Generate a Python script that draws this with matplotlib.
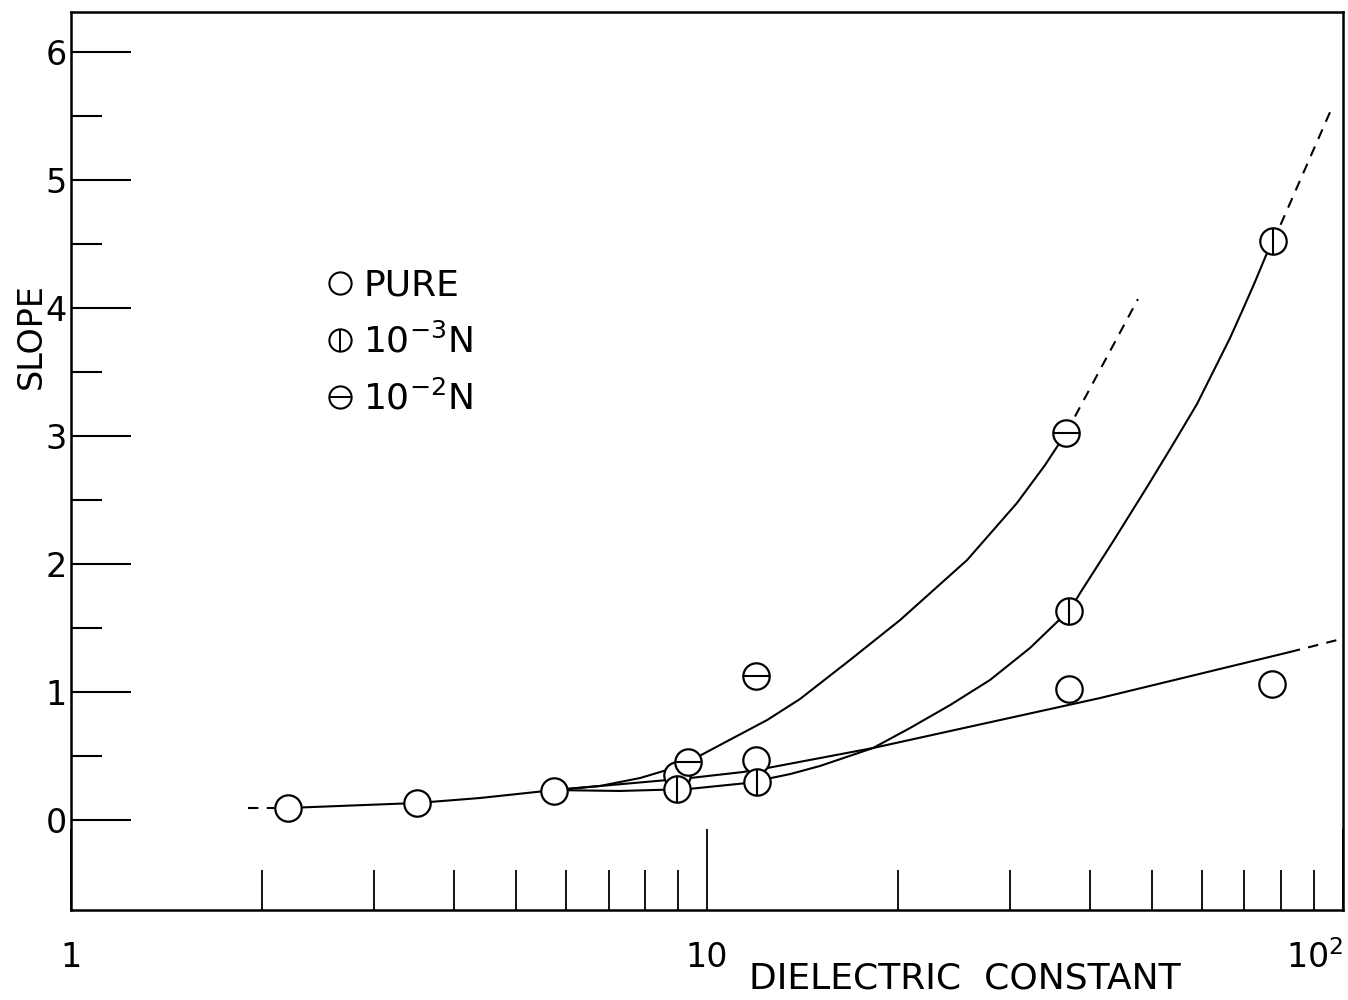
import numpy as np
import matplotlib
matplotlib.use("Agg")
import matplotlib.pyplot as plt
from matplotlib.lines import Line2D
from matplotlib.ticker import FixedLocator, NullFormatter

# measured points (dielectric constant, slope)
pure_x = [2.19, 3.50, 5.75, 8.97, 11.94, 37.1, 77.3]
pure_y = [0.09, 0.13, 0.23, 0.35, 0.47, 1.02, 1.06]
n3_x = [8.97, 11.98, 37.1, 77.6]
n3_y = [0.24, 0.30, 1.63, 4.52]
n2_x = [9.34, 11.94, 36.7]
n2_y = [0.45, 1.125, 3.02]

# hand drawn curves
pure_line_x = [2.19, 3.50, 4.396, 5.75, 9.40, 11.39, 12.43, 15.05, 18.24, 41.5, 82.5]
pure_line_y = [0.094, 0.133, 0.172, 0.234, 0.328, 0.375, 0.406, 0.484, 0.5625, 0.953, 1.3125]
pure_dash_x = [[1.90, 2.19], [82.5, 97.9]]
pure_dash_y = [[0.094, 0.094], [1.3125, 1.406]]

n3_line_x = [5.75, 7.298, 9.336, 11.56, 13.51, 15.05, 18.24, 20.86, 24.11, 27.86,
             32.20, 35.51, 36.95, 38.18, 38.60, 43.64, 49.19, 53.84, 58.94, 62.69,
             66.43, 69.63, 72.69, 75.95, 77.62]
n3_line_y = [0.234, 0.227, 0.242, 0.289, 0.359, 0.422, 0.5625, 0.719, 0.898, 1.094,
             1.344, 1.547, 1.633, 1.734, 1.773, 2.1875, 2.602, 2.922, 3.25, 3.516,
             3.766, 3.992, 4.203, 4.43, 4.516]
n3_dash_x = [77.62, 95.4]
n3_dash_y = [4.516, 5.53]

n2_line_x = [5.75, 6.786, 7.847, 8.747, 9.336, 10.48, 12.43, 14.00, 16.78, 20.12,
             25.64, 30.72, 34.00, 36.69]
n2_line_y = [0.234, 0.266, 0.328, 0.398, 0.453, 0.586, 0.781, 0.945, 1.25, 1.5625,
             2.031, 2.477, 2.773, 3.023]
n2_dash_x = [36.69, 47.6]
n2_dash_y = [3.023, 4.07]

y_major = [0, 1, 2, 3, 4, 5, 6]
y_minor = [0.5, 1.5, 2.5, 3.5, 4.5, 5.5]
x_major = [1, 10, 100]
x_major_labels = ["1", "10", "$10^2$"]
x_minor = [2, 3, 4, 5, 6, 7, 8, 9, 20, 30, 40, 50, 60, 70, 80, 90]

plt.rcParams['font.family'] = ['DejaVu Sans']
plt.rcParams['mathtext.fontset'] = 'dejavusans'

fig = plt.figure(figsize=(13.48, 10), dpi=100)
ax = fig.add_axes([0.0527, 0.09, 0.9436, 0.898])
ax.set_xscale('log')
ax.set_xlim(1, 100)
ax.set_ylim(-0.703, 6.3125)

lw = 1.5
dash = (0, (5, 4))
ax.plot(pure_line_x, pure_line_y, color='black', lw=lw, zorder=2)
for dx, dy in zip(pure_dash_x, pure_dash_y):
    ax.plot(dx, dy, color='black', lw=lw, ls=dash, zorder=2)
ax.plot(n3_line_x, n3_line_y, color='black', lw=lw, zorder=2)
ax.plot(n3_dash_x, n3_dash_y, color='black', lw=lw, ls=dash, zorder=2)
ax.plot(n2_line_x, n2_line_y, color='black', lw=lw, zorder=2)
ax.plot(n2_dash_x, n2_dash_y, color='black', lw=lw, ls=dash, zorder=2)

ms = 19
mk = dict(ls='none', marker='o', ms=ms, mfc='white', mec='black', mew=1.6, zorder=3)
ax.plot(pure_x, pure_y, **mk)
ax.plot(n3_x, n3_y, **mk)
ax.plot(n3_x, n3_y, ls='none', marker='|', ms=ms, mec='black', mew=1.5, zorder=4)
ax.plot(n2_x, n2_y, **mk)
ax.plot(n2_x, n2_y, ls='none', marker='_', ms=ms, mec='black', mew=1.5, zorder=4)

# axes frame and ticks
for s in ax.spines.values():
    s.set_linewidth(1.8)
ax.yaxis.set_major_locator(FixedLocator(y_major))
ax.yaxis.set_minor_locator(FixedLocator(y_minor))
ax.yaxis.set_minor_formatter(NullFormatter())
ax.set_yticklabels([str(v) for v in y_major])
ax.xaxis.set_major_locator(FixedLocator(x_major))
ax.xaxis.set_minor_locator(FixedLocator(x_minor))
ax.xaxis.set_minor_formatter(NullFormatter())
ax.set_xticklabels(x_major_labels)

ax.tick_params(axis='y', which='major', direction='in', length=43, width=1.5,
               labelsize=24, pad=3, right=False)
ax.tick_params(axis='y', which='minor', direction='in', length=22, width=1.5, right=False)
ax.tick_params(axis='x', which='major', direction='in', length=58, width=1.3,
               labelsize=24, pad=22, top=False)
ax.tick_params(axis='x', which='minor', direction='in', length=29, width=1.3, top=False)
ax.get_xticklabels()[-1].set_horizontalalignment('right')

ax.text(-0.031, 0.639, 'SLOPE', transform=ax.transAxes, rotation=90,
        ha='center', va='center', fontsize=24)
ax.text(0.703, -0.076, 'DIELECTRIC  CONSTANT', transform=ax.transAxes,
        ha='center', va='center', fontsize=26)

# legend: plain circle, circle with vertical bar, circle with horizontal bar
h_pure = Line2D([], [], ls='none', marker='o', ms=16, mfc='white', mec='black', mew=1.5)
h3 = (Line2D([], [], ls='none', marker='o', ms=16, mfc='white', mec='black', mew=1.5),
      Line2D([], [], ls='none', marker='|', ms=16, mec='black', mew=1.4))
h2 = (Line2D([], [], ls='none', marker='o', ms=16, mfc='white', mec='black', mew=1.5),
      Line2D([], [], ls='none', marker='_', ms=16, mec='black', mew=1.4))
ax.legend([h_pure, h3, h2], ['PURE', '10$^{-3}$N', '10$^{-2}$N'],
          loc='upper left', bbox_to_anchor=(0.197, 0.714), frameon=False,
          fontsize=26, handlelength=1.0, handletextpad=0.15, labelspacing=0.57,
          borderpad=0, borderaxespad=0)

fig.savefig('out.png', dpi=100)
